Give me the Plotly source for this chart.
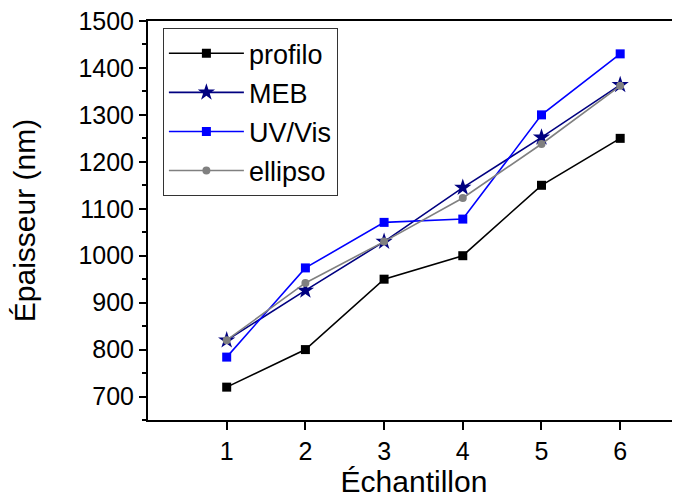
import plotly.graph_objects as go

echantillons = [1, 2, 3, 4, 5, 6]
profilo = [720, 800, 950, 1000, 1150, 1250]
meb = [820, 926, 1030, 1145, 1252, 1364]
uvvis = [784, 974, 1071, 1078, 1300, 1430]
ellipso = [820, 942, 1030, 1123, 1238, 1362]

x_ticks = [1, 2, 3, 4, 5, 6]
y_ticks = [700, 800, 900, 1000, 1100, 1200, 1300, 1400, 1500]

FONT = "Liberation Sans, Arial, sans-serif"

series = [
    ("profilo", profilo, "#000000", "square", 9, 1.6),
    ("MEB", meb, "#000080", "star", 13, 1.6),
    ("UV/Vis", uvvis, "#0000FF", "square", 9, 1.6),
    ("ellipso", ellipso, "#808080", "circle", 8, 1.6),
]

fig = go.Figure()
for i, (name, vals, color, sym, size, lw) in enumerate(series):
    fig.add_trace(go.Scatter(
        x=echantillons, y=vals, name=name, mode="lines+markers",
        line=dict(color=color, width=lw),
        marker=dict(symbol=sym, size=size, color=color, line=dict(width=0)),
        legendgroup=f"g{i}",
    ))

# The page body adds an 8px offset, so the figure is 672x493 drawn at (8, 8)
fig.update_layout(
    width=672, height=493,
    margin=dict(l=140, r=0, t=13, b=81),
    paper_bgcolor="white", plot_bgcolor="white",
    font=dict(family=FONT, color="black"),
    showlegend=True,
    legend=dict(
        x=0.028, y=0.982, xanchor="left", yanchor="top",
        bgcolor="white", bordercolor="#333333", borderwidth=1,
        font=dict(size=27, family=FONT), tracegroupgap=1,
        itemwidth=75,
    ),
)

fig.update_xaxes(
    range=[0, 6.76], tickvals=x_ticks, ticktext=[str(v) for v in x_ticks],
    showgrid=False, zeroline=False,
    showline=True, linecolor="black", linewidth=2, mirror=True,
    ticks="outside", ticklen=8, tickwidth=2, tickcolor="black",
    tickfont=dict(size=25, family=FONT),
    title=dict(text="Échantillon", font=dict(size=30, family=FONT), standoff=6),
)
fig.update_yaxes(
    range=[650, 1500], tickvals=y_ticks, ticktext=[str(v) for v in y_ticks],
    showgrid=False, zeroline=False,
    showline=True, linecolor="black", linewidth=2, mirror=False,
    ticks="outside", ticklen=7, tickwidth=2, tickcolor="black",
    tickfont=dict(size=25, family=FONT), ticklabeloverflow="allow",
    minor=dict(ticks="outside", ticklen=4, tickwidth=1.5, tickcolor="black", dtick=50, tick0=0, showgrid=False),
    title=dict(text="Épaisseur (nm)", font=dict(size=30, family=FONT), standoff=36),
)

fig.write_html("out.html")
